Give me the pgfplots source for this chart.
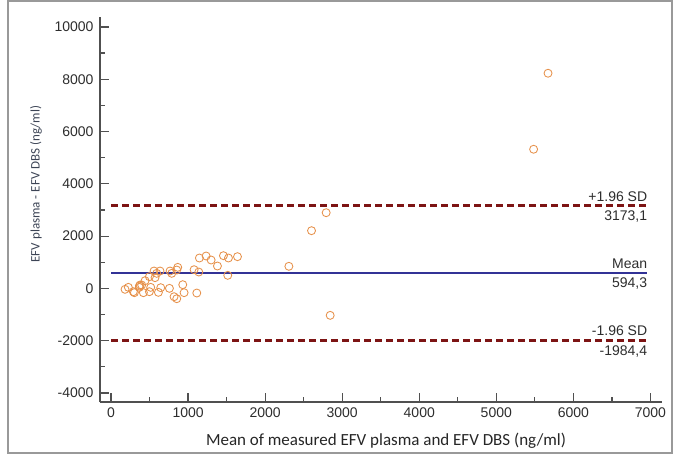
\documentclass[border=0pt]{standalone}
\usepackage{pgfplots}
\pgfplotsset{compat=1.18}
\usepackage{fontspec}
\setmainfont{Liberation Sans}
\newfontfamily\calibri{Carlito}
\definecolor{ptorange}{RGB}{230,145,75}
\definecolor{meanblue}{RGB}{50,50,150}
\definecolor{sdred}{RGB}{125,20,20}
\definecolor{axgray}{RGB}{80,80,80}
\definecolor{txtgray}{RGB}{45,45,45}
\definecolor{ylabcol}{RGB}{60,68,85}
\begin{document}
\begin{tikzpicture}[x=1pt,y=1pt]
\useasboundingbox (0,0) rectangle (675,459);
\begin{axis}[
  at={(100pt,57pt)}, anchor=south west,
  scale only axis, width=562pt, height=385pt,
  xmin=-143, xmax=7150, ymin=-4344, ymax=10380,
  axis x line=bottom, axis y line=left,
  axis line style={-, axgray, line width=1.6pt},
  xtick={0,1000,...,7000}, ytick={-4000,-2000,...,10000},
  minor x tick num=1, minor y tick num=1,
  tick align=inside,
  major tick length=9pt, minor tick length=5pt,
  tick style={axgray, line width=1.2pt},
  scaled ticks=false,
  /pgf/number format/assume math mode=true,
  /pgf/number format/1000 sep={},
  ticklabel style={font=\fontsize{14}{16}\selectfont, text=txtgray},
  xticklabel style={yshift=-2pt},
  yticklabel style={xshift=-3pt},
  xlabel={Mean of measured EFV plasma and EFV DBS (ng/ml)},
  ylabel={EFV plasma - EFV DBS (ng/ml)},
  xlabel style={at={(axis description cs:0.509,-0.1013)}, anchor=center, font=\calibri\fontsize{17}{20}\selectfont, text=black!85},
  ylabel style={at={(axis description cs:-0.1139,0.566)}, anchor=center, font=\calibri\fontsize{13}{15}\selectfont, text=ylabcol},
  clip=false,
]
\addplot[draw=meanblue, mark=none, line width=2.2pt] coordinates {(0,594.3) (6960,594.3)};
\addplot[draw=sdred, mark=none, line width=2.5pt, line cap=butt, dash pattern=on 7pt off 4pt] coordinates {(0,-1984.4) (6960,-1984.4)};
\addplot[draw=sdred, mark=none, line width=2.5pt, line cap=butt, dash pattern=on 7pt off 4pt] coordinates {(0,3173.1) (6960,3173.1)};
\addplot[only marks, mark=o, mark size=4pt, mark options={draw=ptorange, line width=0.85pt}] coordinates {
(1147,1163) (1234,1240) (1299,1086) (1381,857) (1459,1252) (1524,1163) (1641,1214)
(1515,500) (1078,716) (1139,627) (866,806) (853,704) (766,666) (788,577)
(636,666) (558,666) (498,449) (571,411) (442,296) (377,130) (593,577)
(182,-35) (225,41) (290,-125) (303,-163) (368,92) (368,41) (398,130) (420,-163)
(498,-125) (515,41) (615,-150) (645,28) (758,3) (818,-317) (853,-393)
(931,143) (948,-163) (1113,-176)
(2792,2896) (2602,2208) (2308,845) (2844,-1030) (5671,8229) (5484,5322)
};
\node[anchor=south east, font=\fontsize{14}{16}\selectfont, text=txtgray, inner sep=0pt] at (axis cs:6960,3173.1) [yshift=4pt] {+1.96 SD};
\node[anchor=north east, font=\fontsize{14}{16}\selectfont, text=txtgray, inner sep=0pt] at (axis cs:6960,3173.1) [yshift=-5pt] {3173,1};
\node[anchor=south east, font=\fontsize{14}{16}\selectfont, text=txtgray, inner sep=0pt] at (axis cs:6960,594.3) [yshift=4pt] {Mean};
\node[anchor=north east, font=\fontsize{14}{16}\selectfont, text=txtgray, inner sep=0pt] at (axis cs:6960,594.3) [yshift=-5pt] {594,3};
\node[anchor=south east, font=\fontsize{14}{16}\selectfont, text=txtgray, inner sep=0pt] at (axis cs:6960,-1984.4) [yshift=4pt] {-1.96 SD};
\node[anchor=north east, font=\fontsize{14}{16}\selectfont, text=txtgray, inner sep=0pt] at (axis cs:6960,-1984.4) [yshift=-5pt] {-1984,4};
\end{axis}
\draw[gray!80, line width=1.2pt] (8,6) rectangle (672,458);
\end{tikzpicture}
\end{document}
